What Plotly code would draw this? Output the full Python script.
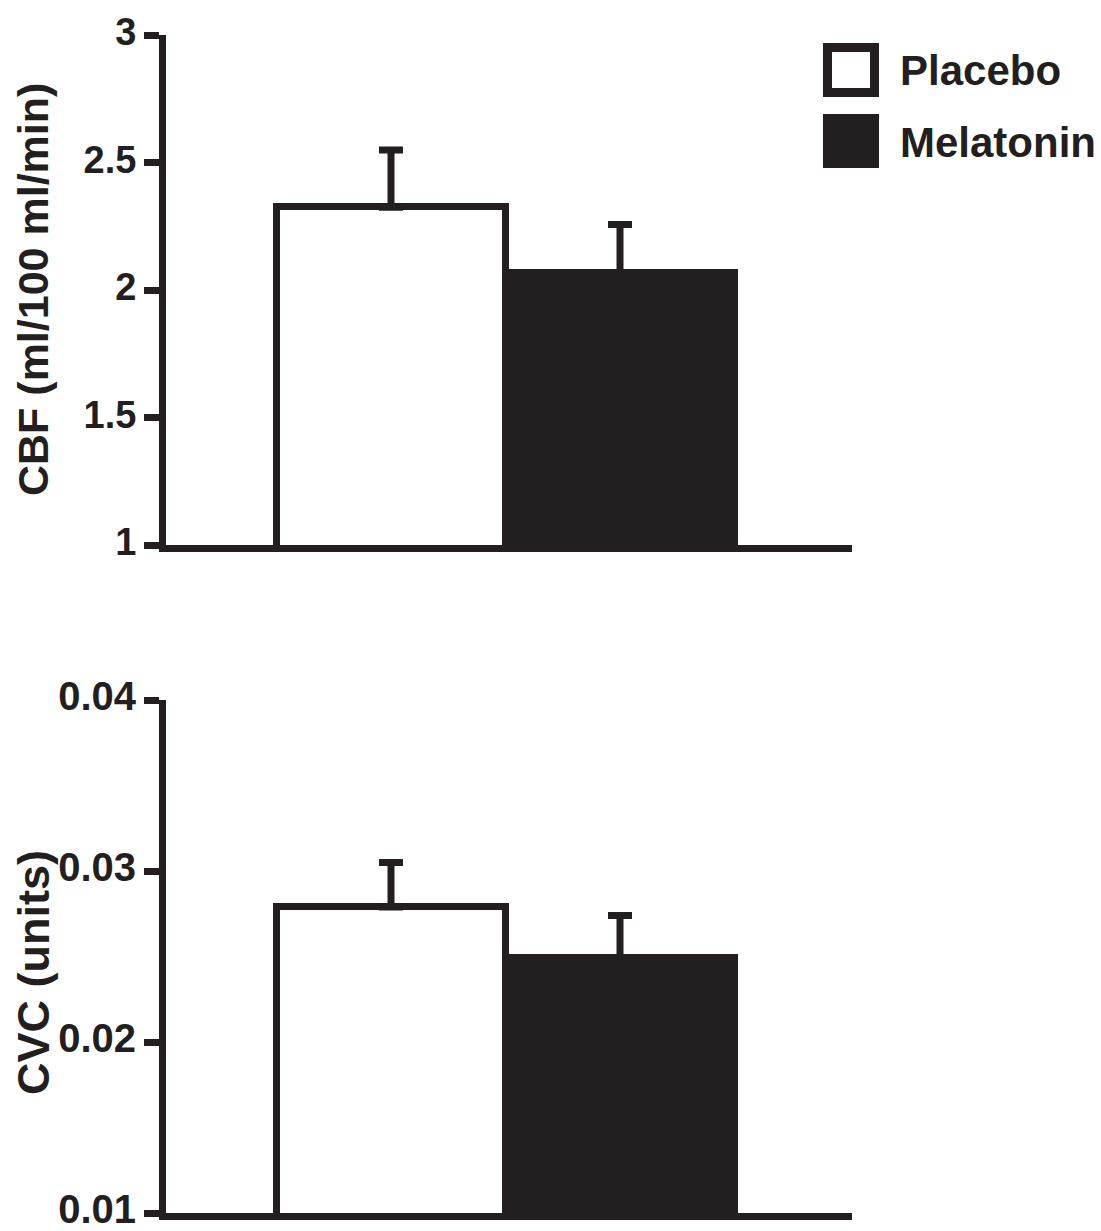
import plotly.graph_objects as go
from plotly.subplots import make_subplots

groups = ["Placebo", "Melatonin"]
cbf_mean = [2.325, 2.065]
cbf_sem = [0.224, 0.192]
cvc_mean = [0.0279, 0.0249]
cvc_sem = [0.0026, 0.0025]
cbf_ticks = [1, 1.5, 2, 2.5, 3]
cbf_ticklabels = ["1", "1.5", "2", "2.5", "3"]
cvc_ticks = [0.01, 0.02, 0.03, 0.04]
cvc_ticklabels = ["0.01", "0.02", "0.03", "0.04"]

INK = "#231f20"
FONT = "Liberation Sans"
W, H = 1101, 1231
ML, MR, MT, MB = 166, 249, 35, 18
PW, PH = W - ML - MR, H - MT - MB

def px(x):
    return (x - ML) / PW

def py(y):
    return (H - MB - y) / PH

fills = ["white", INK]
xpos = [0, 1]

fig = make_subplots(rows=2, cols=1)
for i, g in enumerate(groups):
    for row, m, s in [(1, cbf_mean, cbf_sem), (2, cvc_mean, cvc_sem)]:
        fig.add_trace(go.Bar(
            x=[xpos[i]], y=[m[i]], width=1, name=g, showlegend=False,
            marker=dict(color=fills[i], line=dict(color=INK, width=7)),
            error_y=dict(type="data", array=[s[i]], arrayminus=[0], symmetric=False,
                         color=INK, thickness=7, width=12),
        ), row=row, col=1)

fig.update_layout(
    width=W, height=H, margin=dict(l=ML, r=MR, t=MT, b=MB, autoexpand=False),
    plot_bgcolor="white", paper_bgcolor="white", barmode="overlay", bargap=0,
    font=dict(family=FONT, color=INK),
    showlegend=False,
)

top_dom = [py(545), 1.0]
bot_dom = [0.0, py(700)]
xrange = [-0.9825, 2.013]
for ax in ["xaxis", "xaxis2"]:
    fig.layout[ax].update(range=xrange, showline=True, linewidth=7, linecolor=INK, automargin=False,
                          showticklabels=False, ticks="", showgrid=False, zeroline=False)
fig.layout.yaxis.update(domain=top_dom, range=[1, 3], tickvals=cbf_ticks, ticktext=cbf_ticklabels,
                        showline=True, linewidth=7, linecolor=INK, ticks="outside", ticklen=15,
                        tickwidth=7, tickcolor=INK, showgrid=False, zeroline=False, automargin=False,
                        ticklabeloverflow="allow", ticklabelshift=-3,
                        tickfont=dict(family=FONT, size=38, color=INK, weight="bold"))
fig.layout.yaxis2.update(domain=bot_dom, range=[0.01, 0.04], tickvals=cvc_ticks, ticktext=cvc_ticklabels,
                         showline=True, linewidth=7, linecolor=INK, ticks="outside", ticklen=15,
                         tickwidth=7, tickcolor=INK, showgrid=False, zeroline=False, automargin=False,
                         ticklabeloverflow="allow", ticklabelshift=-4,
                         tickfont=dict(family=FONT, size=40, color=INK, weight="bold"))

ann = []
ann.append(dict(text="CBF (ml/100 ml/min)", x=px(33), y=py(290), xref="paper", yref="paper",
                textangle=-90, showarrow=False, xanchor="center", yanchor="middle",
                font=dict(family=FONT, size=43, color=INK, weight="bold")))
ann.append(dict(text="CVC (units)", x=px(33), y=py(973), xref="paper", yref="paper",
                textangle=-90, showarrow=False, xanchor="center", yanchor="middle",
                font=dict(family=FONT, size=45, color=INK, weight="bold")))
ann.append(dict(text="Placebo", x=px(898), y=py(70), xref="paper", yref="paper",
                showarrow=False, xanchor="left", yanchor="middle",
                font=dict(family=FONT, size=42, color=INK, weight="bold")))
ann.append(dict(text="Melatonin", x=px(898), y=py(143), xref="paper", yref="paper",
                showarrow=False, xanchor="left", yanchor="middle",
                font=dict(family=FONT, size=42, color=INK, weight="bold")))
fig.update_layout(annotations=ann)

fig.add_shape(type="rect", xref="paper", yref="paper", x0=px(827.5), x1=px(874.5),
              y0=py(92.5), y1=py(47.5), line=dict(color=INK, width=9), fillcolor="white")
fig.add_shape(type="rect", xref="paper", yref="paper", x0=px(823), x1=px(879),
              y0=py(168), y1=py(114), line=dict(width=0), fillcolor=INK)

fig.write_html("out.html")
